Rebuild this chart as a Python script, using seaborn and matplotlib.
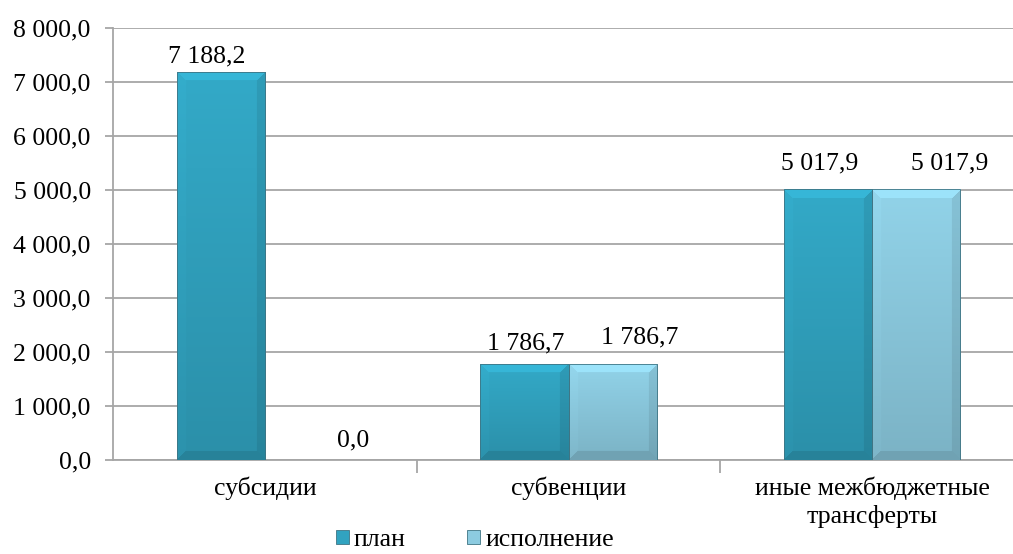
import numpy as np
import pandas as pd
import matplotlib
matplotlib.use("Agg")
import matplotlib.pyplot as plt
import seaborn as sns
from matplotlib.colors import to_rgb
from matplotlib.patches import Rectangle


# ======================================================
#   data
# ======================================================
categories = ["субсидии", "субвенции", "иные межбюджетные\nтрансферты"]
series_names = ["план", "исполнение"]
plan_values = [7188.2, 1786.7, 5017.9]
exec_values = [0.0, 1786.7, 5017.9]
y_ticks = [0, 1000, 2000, 3000, 4000, 5000, 6000, 7000, 8000]

PLAN_COLOR = "#31a3c0"
EXEC_COLOR = "#8ccbe0"

# label nudges in pixels (dx, dy above bar top), per series / category
LABEL_OFFSETS = {
    "план": [(-14, 15), (1, 20), (-9, 26)],
    "исполнение": [(44, 20), (27, 26), (33, 26)],
}


def ru_fmt(v):
    s = f"{v:,.1f}"
    return s.replace(",", " ").replace(".", ",")


# ======================================================
#   theme
# ======================================================
sns.set_theme(style="white")
plt.rcParams["font.family"] = ["Liberation Serif", "DejaVu Serif"]
plt.rcParams["text.color"] = "black"
plt.rcParams["xtick.color"] = "black"
plt.rcParams["ytick.color"] = "black"
FS = 18.5

df = pd.DataFrame({
    "category": categories * 2,
    "series": [series_names[0]] * 3 + [series_names[1]] * 3,
    "value": plan_values + exec_values,
})

W, H = 1013, 554
fig = plt.figure(figsize=(W / 100, H / 100), dpi=100)
ax = fig.add_axes([113 / W, 1 - 460 / H, (1024 - 113) / W, (460 - 28) / H])

sns.barplot(data=df, x="category", y="value", hue="series",
            order=categories, hue_order=series_names,
            palette=[PLAN_COLOR, EXEC_COLOR], saturation=1,
            width=0.58, legend=False, ax=ax, zorder=3,
            edgecolor="#3f7483", linewidth=0.6)

ax.set_ylim(0, 8000)
ax.set_xlim(-0.5, 2.5)
ax.set_yticks(y_ticks)
ax.set_yticklabels([ru_fmt(t) for t in y_ticks], fontsize=FS, color="black")
ax.set_xlabel("")
ax.set_ylabel("")
ax.grid(axis="y", color="#a6a6a6", linewidth=1.3, zorder=0)
ax.set_axisbelow(True)

for side in ["top", "right"]:
    ax.spines[side].set_visible(False)
for side in ["left", "bottom"]:
    ax.spines[side].set_color("#a6a6a6")
    ax.spines[side].set_linewidth(1.3)

ax.tick_params(axis="y", length=6, width=1.3, color="#a6a6a6", pad=10,
               left=True, labelcolor="black")
# category ticks sit between the groups
ax.set_xticks([0.5, 1.5], minor=True)
ax.set_xticks([0, 1, 2])
ax.set_xticklabels(categories, fontsize=FS, linespacing=1.25, color="black")
ax.tick_params(axis="x", which="major", length=0, pad=12)
ax.tick_params(axis="x", which="minor", length=9, width=1.3,
               color="#a6a6a6", bottom=True)

fig.canvas.draw()


# ======================================================
#   bevel shading on the bars
# ======================================================
def bevel_image(color, w_px, h_px, b=9):
    base = np.array(to_rgb(color))
    rows = np.arange(h_px)[:, None]
    cols = np.arange(w_px)[None, :]
    grad = 1.04 - 0.16 * rows / max(h_px - 1, 1)
    fac = np.ones((h_px, w_px)) * grad
    d_top = rows + 0 * cols
    d_bot = (h_px - 1 - rows) + 0 * cols
    d_left = cols + 0 * rows
    d_right = (w_px - 1 - cols) + 0 * rows
    dmin = np.minimum.reduce([d_top, d_bot, d_left, d_right])
    edge = dmin < b
    fac = np.where(edge & (d_top == dmin), 1.12, fac)
    fac = np.where(edge & (d_left == dmin) & (d_top != dmin), fac * 1.02, fac)
    fac = np.where(edge & (d_right == dmin) & (d_top != dmin), fac * 0.92, fac)
    fac = np.where(edge & (d_bot == dmin), 0.8, fac)
    img = np.clip(base[None, None, :] * fac[..., None], 0, 1)
    return img


for container, name in zip(ax.containers, series_names):
    color = PLAN_COLOR if name == series_names[0] else EXEC_COLOR
    for bar, (dx, dy) in zip(container, LABEL_OFFSETS[name]):
        h = bar.get_height()
        x0, w = bar.get_x(), bar.get_width()
        if h > 0:
            p0 = ax.transData.transform((x0, 0))
            p1 = ax.transData.transform((x0 + w, h))
            w_px = max(int(round(p1[0] - p0[0])), 2)
            h_px = max(int(round(p1[1] - p0[1])), 2)
            im = ax.imshow(bevel_image(color, w_px, h_px),
                           extent=(x0, x0 + w, 0, h), aspect="auto",
                           zorder=3.5, interpolation="bilinear")
            im.set_clip_path(bar)
            ax.add_patch(Rectangle((x0, 0), w, h, fill=False,
                                   edgecolor="#3f7483", linewidth=0.6,
                                   zorder=3.6))
        ax.annotate(ru_fmt(h), (x0 + w / 2, h), xytext=(dx, dy),
                    textcoords="offset pixels", ha="center", va="center",
                    fontsize=FS, color="black", zorder=5)

ax.set_xlim(-0.5, 2.5)
ax.set_ylim(0, 8000)

handles = [Rectangle((0, 0), 1, 1, facecolor=c, edgecolor="#3f7483",
                     linewidth=0.6) for c in [PLAN_COLOR, EXEC_COLOR]]
fig.legend(handles, series_names, loc="center",
           bbox_to_anchor=(475 / W, 1 - 540 / H), ncol=2, frameon=False,
           fontsize=FS, handlelength=0.5, handleheight=0.5,
           handletextpad=0.2, columnspacing=2.4, borderpad=0.1)

fig.savefig("out.png", dpi=100)
